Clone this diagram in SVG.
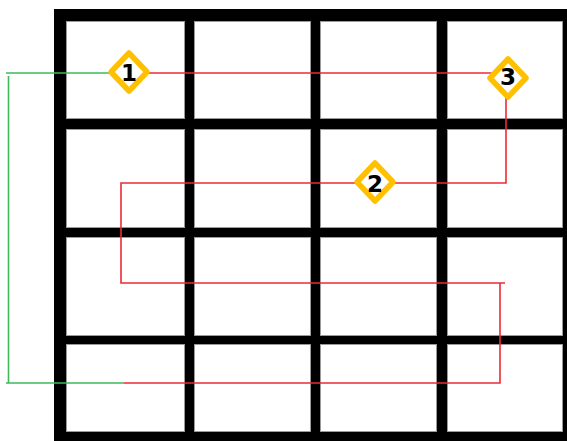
<svg xmlns="http://www.w3.org/2000/svg" width="567" height="441" viewBox="0 0 567 441">
<style>
.cell{fill:#fff;stroke:#9a9a9a;stroke-width:1}
.red{fill:none;stroke:#ec2b36;stroke-width:1.6}
.green{fill:none;stroke:#3fb95a;stroke-width:1.6}
.dia{fill:#fff;stroke:#ffc000;stroke-width:5.5;stroke-linejoin:round}
.num{font-family:"DejaVu Sans","Liberation Sans",sans-serif;font-weight:bold;font-size:23px;fill:#000;text-anchor:middle}
</style>
<rect width="567" height="441" fill="#fff"/>
<g id="grid">
<rect x="54" y="9" width="513" height="432" fill="#000"/>
<rect class="cell" x="66.5" y="21.5" width="118" height="97"/>
<rect class="cell" x="194.5" y="21.5" width="116" height="97"/>
<rect class="cell" x="320.5" y="21.5" width="116" height="97"/>
<rect class="cell" x="447.5" y="21.5" width="115" height="97"/>
<rect class="cell" x="66.5" y="129.5" width="118" height="98"/>
<rect class="cell" x="194.5" y="129.5" width="116" height="98"/>
<rect class="cell" x="320.5" y="129.5" width="116" height="98"/>
<rect class="cell" x="447.5" y="129.5" width="115" height="98"/>
<rect class="cell" x="66.5" y="237.5" width="118" height="98"/>
<rect class="cell" x="194.5" y="237.5" width="116" height="98"/>
<rect class="cell" x="320.5" y="237.5" width="116" height="98"/>
<rect class="cell" x="447.5" y="237.5" width="115" height="98"/>
<rect class="cell" x="66.5" y="344.5" width="118" height="87"/>
<rect class="cell" x="194.5" y="344.5" width="116" height="87"/>
<rect class="cell" x="320.5" y="344.5" width="116" height="87"/>
<rect class="cell" x="447.5" y="344.5" width="115" height="87"/>
</g>
<g id="connectors">
<polyline class="green" points="129,73 6,73"/>
<polyline class="green" points="8.5,76 8.5,383 6,383 124,383"/>
<polyline class="red" points="124,383 500,383 500,283 505,283 121,283 121,183 506,183 506,78"/>
<polyline class="red" points="129,73 507,73"/>
</g>
<g id="node1">
<polygon class="dia" points="129,53 147,72 129,91 111,72"/>
<text class="num" x="129" y="81">1</text>
</g>
<g id="node2">
<polygon class="dia" points="375,163 393,182 375,201 357,182"/>
<text class="num" x="375" y="192">2</text>
</g>
<g id="node3">
<polygon class="dia" points="508,59 526,78 508,97 490,78"/>
<text class="num" x="508" y="85">3</text>
</g>
</svg>
